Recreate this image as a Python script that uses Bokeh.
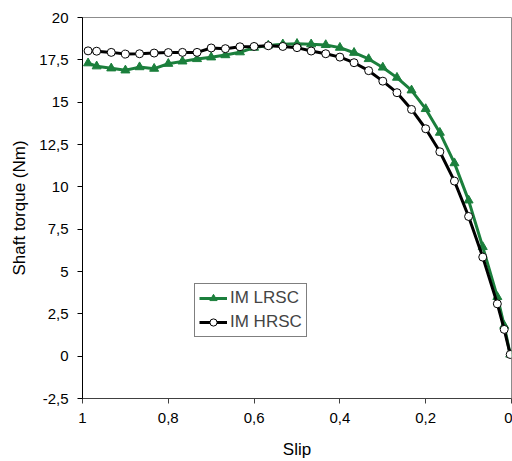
from bokeh.plotting import figure
from bokeh.models import Range1d, FixedTicker, CustomJSTickFormatter, Legend, LegendItem
from bokeh.embed import file_html
from bokeh.resources import INLINE

slip = [0.987, 0.967, 0.933, 0.9, 0.867, 0.833, 0.8, 0.767, 0.733, 0.7, 0.667, 0.633,
        0.6, 0.567, 0.533, 0.5, 0.467, 0.433, 0.4, 0.367, 0.333, 0.3, 0.267, 0.233,
        0.2, 0.167, 0.133, 0.1, 0.067, 0.033, 0.017, 0.003]
im_lrsc = [17.3, 17.12, 17.0, 16.88, 17.07, 16.98, 17.27, 17.41, 17.55, 17.65, 17.78, 17.95,
           18.22, 18.35, 18.42, 18.45, 18.42, 18.38, 18.22, 17.92, 17.55, 17.05, 16.45, 15.7,
           14.6, 13.2, 11.4, 9.2, 6.45, 3.5, 1.8, 0.1]
im_hrsc = [18.03, 18.01, 17.94, 17.84, 17.86, 17.9, 17.93, 17.94, 17.94, 18.2, 18.16, 18.27,
           18.29, 18.33, 18.29, 18.22, 18.02, 17.86, 17.66, 17.33, 16.86, 16.24, 15.56, 14.57,
           13.43, 12.07, 10.34, 8.25, 5.85, 3.09, 1.58, 0.1]
x_ticks = [1, 0.8, 0.6, 0.4, 0.2, 0]
y_ticks = [-2.5, 0, 2.5, 5, 7.5, 10, 12.5, 15, 17.5, 20]

FONT = "Liberation Sans"
GREEN = "#1b7f3c"

p = figure(frame_width=429, frame_height=381, output_backend="svg", toolbar_location=None,
           x_range=Range1d(1, 0), y_range=Range1d(-2.5, 20),
           min_border_left=82, min_border_right=1, min_border_top=17, min_border_bottom=63)
p.xgrid.visible = False
p.ygrid.visible = False
p.outline_line_color = "#8c8c8c"
p.outline_line_width = 1

fmt = CustomJSTickFormatter(code="return (Math.round(tick*10)/10).toString().replace('.', ',');")
p.xaxis.ticker = FixedTicker(ticks=x_ticks)
p.yaxis.ticker = FixedTicker(ticks=y_ticks)
for ax in (p.xaxis[0], p.yaxis[0]):
    ax.formatter = fmt
    ax.major_label_text_font = FONT
    ax.major_label_text_font_size = "15px"
    ax.major_label_text_color = "black"
    ax.axis_label_text_font = FONT
    ax.axis_label_text_font_size = "17px"
    ax.axis_label_text_font_style = "normal"
    ax.axis_label_text_color = "black"
    ax.major_tick_in = 0
    ax.major_tick_out = 5
    ax.minor_tick_line_color = None
p.xaxis.axis_label = "Slip"
p.yaxis.axis_label = "Shaft torque (Nm)"
p.xaxis.axis_line_color = "#404040"
p.xaxis.major_tick_line_color = "#404040"
p.yaxis.axis_line_color = "black"
p.yaxis.major_tick_line_color = "black"
p.xaxis.major_label_standoff = 9
p.yaxis.major_label_standoff = 9
p.xaxis.axis_label_standoff = 14
p.yaxis.axis_label_standoff = 7

l1 = p.line(slip, im_lrsc, line_color=GREEN, line_width=3)
s1 = p.scatter(slip, im_lrsc, marker="triangle", size=9, fill_color=GREEN, line_color=GREEN)
l2 = p.line(slip, im_hrsc, line_color="black", line_width=3)
s2 = p.scatter(slip, im_hrsc, marker="circle", size=8, fill_color="white", line_color="black", line_width=1)

legend = Legend(items=[LegendItem(label="IM LRSC", renderers=[l1, s1]),
                       LegendItem(label="IM HRSC", renderers=[l2, s2])],
                location=(112, 61), label_text_font=FONT, label_text_font_size="17px",
                glyph_width=28, glyph_height=18, label_height=18, spacing=4, padding=4,
                margin=0, label_standoff=3, border_line_color="black", border_line_width=1,
                background_fill_alpha=1)
p.add_layout(legend, "center")

open("out.html", "w").write(file_html(p, INLINE))
